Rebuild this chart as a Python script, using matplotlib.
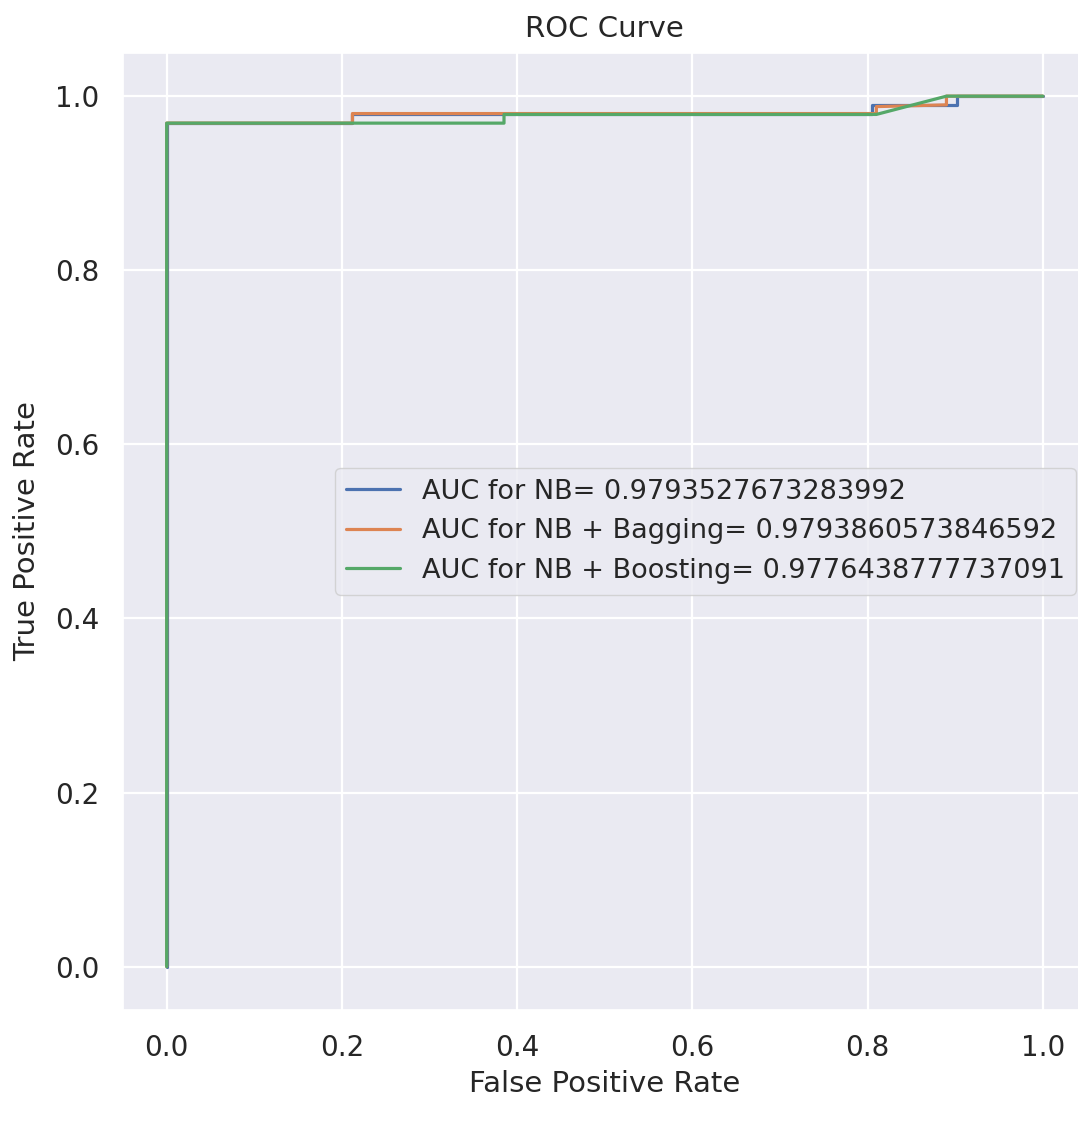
import matplotlib
matplotlib.use('Agg')
import matplotlib.pyplot as plt
import seaborn as sns

# ROC points
fpr_nb = [0.0, 0.0, 0.212, 0.212, 0.805, 0.805, 0.902, 0.902, 1.0]
tpr_nb = [0.0, 0.969, 0.969, 0.979, 0.979, 0.990, 0.990, 1.0, 1.0]
fpr_bag = [0.0, 0.0, 0.212, 0.212, 0.81, 0.81, 0.89, 0.89, 1.0]
tpr_bag = [0.0, 0.969, 0.969, 0.980, 0.980, 0.988, 0.990, 1.0, 1.0]
fpr_boost = [0.0, 0.0, 0.385, 0.385, 0.81, 0.89, 1.0]
tpr_boost = [0.0, 0.969, 0.969, 0.979, 0.979, 1.0, 1.0]

auc_nb = 0.9793527673283992
auc_bag = 0.9793860573846592
auc_boost = 0.9776438777737091

sns.set_theme(style='darkgrid')
plt.rcParams['font.family'] = ['DejaVu Sans Condensed', 'DejaVu Sans']

fig = plt.figure(figsize=(10.78, 11.44), dpi=100)
ax = fig.add_axes([0.114, 0.117, 0.894, 0.837])
lw = 2.3
ax.plot(fpr_nb, tpr_nb, color='#4c72b0', lw=lw, label='AUC for NB= {}'.format(auc_nb))
ax.plot(fpr_bag, tpr_bag, color='#dd8452', lw=lw, label='AUC for NB + Bagging= {}'.format(auc_bag))
ax.plot(fpr_boost, tpr_boost, color='#55a868', lw=lw, label='AUC for NB + Boosting= {}'.format(auc_boost))
ax.grid(linewidth=1.6)
ax.tick_params(axis='x', labelsize=20, pad=11)
ax.tick_params(axis='y', labelsize=20, pad=11)
ax.set_xlabel('False Positive Rate', fontsize=21, labelpad=6)
ax.set_ylabel('True Positive Rate', fontsize=21, labelpad=10)
ax.set_title('ROC Curve', fontsize=21, pad=11)
ax.legend(loc='center right', fontsize=19.5, handlelength=2.0, borderaxespad=0.4)
fig.savefig('out.png', dpi=100)
